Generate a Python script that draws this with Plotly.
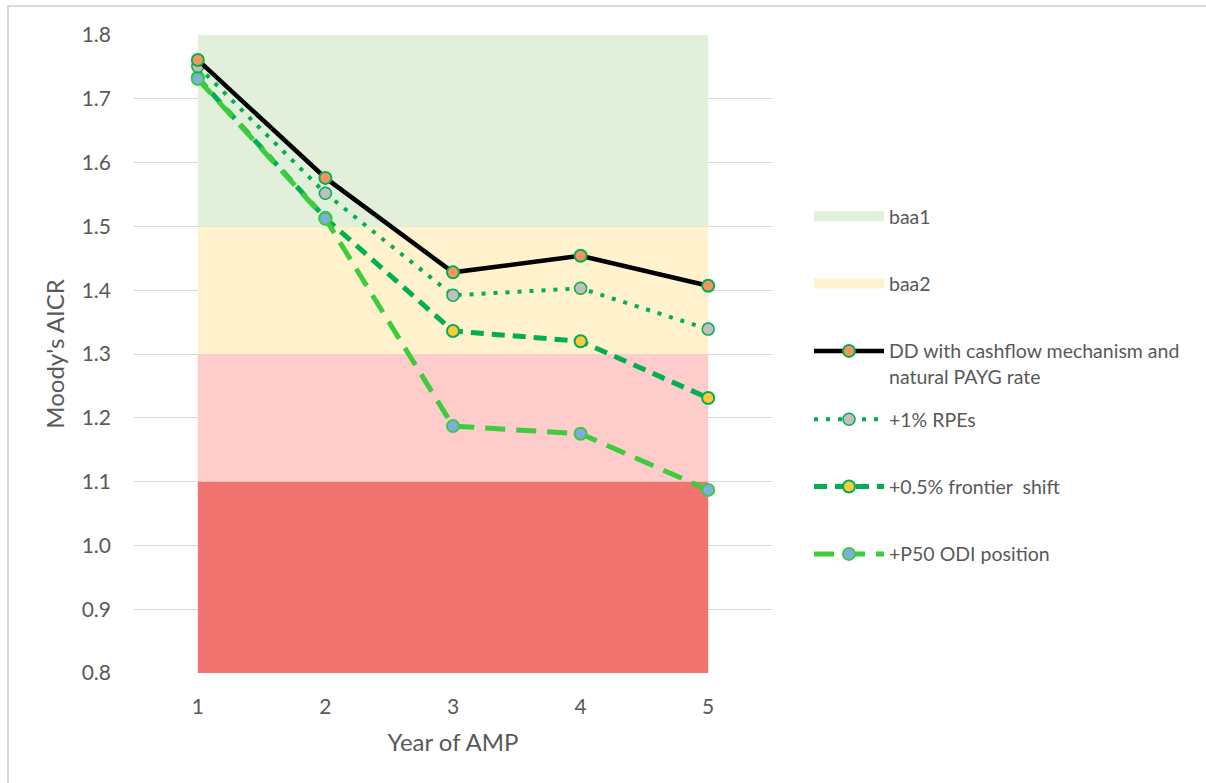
import plotly.graph_objects as go

# Years of the AMP period
years = [1, 2, 3, 4, 5]

# Moody's AICR by scenario
dd_base = [1.761, 1.576, 1.428, 1.454, 1.407]
rpe_1pct = [1.751, 1.552, 1.392, 1.403, 1.339]
frontier_05 = [1.733, 1.513, 1.336, 1.320, 1.231]
p50_odi = [1.731, 1.512, 1.187, 1.175, 1.087]

# Rating bands (lower edge, upper edge)
band_edges = [0.8, 1.1, 1.3, 1.5, 1.8]
band_colors = ["#F27470", "#FFCCCC", "#FFF2CC", "#E2EFDA"]
band_names = ["", "", "baa2", "baa1"]

y_ticks = [0.8, 0.9, 1.0, 1.1, 1.2, 1.3, 1.4, 1.5, 1.6, 1.7, 1.8]

W, H = 1206, 783
L, R, T, B = 134, 434, 35, 110
PW, PH = W - L - R, H - T - B


def px_x(px):
    return (px - L) / PW


def px_y(py):
    return (H - B - py) / PH


FONT = "Lato, 'Open Sans', sans-serif"
TXT = "#595959"

fig = go.Figure()

# Stacked rating bands spanning years 1..5
x_band = [years[0], years[-1]]
fig.add_trace(go.Scatter(x=x_band, y=[band_edges[0]] * 2, mode="lines",
                         line=dict(width=0), showlegend=False, hoverinfo="skip"))
for i, col in enumerate(band_colors):
    fig.add_trace(go.Scatter(x=x_band, y=[band_edges[i + 1]] * 2, mode="lines",
                             line=dict(width=0), fill="tonexty", fillcolor=col,
                             showlegend=False, hoverinfo="skip"))

# Legend keys for the named bands
for rank, (name, col) in enumerate([(band_names[3], band_colors[3]),
                                    (band_names[2], band_colors[2])]):
    fig.add_trace(go.Scatter(x=[None], y=[None], mode="lines", name=name,
                             line=dict(color=col, width=12), legend="legend",
                             legendgroup=name, legendrank=rank + 1))

GREEN = "#00B050"
LGREEN = "#3CCC3C"

fig.add_trace(go.Scatter(
    x=years, y=frontier_05, mode="lines+markers", name="+0.5% frontier  shift",
    line=dict(color=GREEN, width=5, dash="13px,8px"),
    marker=dict(size=12, color="#FFC93A", line=dict(color=GREEN, width=2)),
    legend="legend2", legendrank=2, legendgroup="frontier"))
fig.add_trace(go.Scatter(
    x=years, y=p50_odi, mode="lines+markers", name="+P50 ODI position",
    line=dict(color=LGREEN, width=5, dash="20px,11px"),
    marker=dict(size=12, color="#7EAEE0", line=dict(color=LGREEN, width=2)),
    legend="legend2", legendrank=3, legendgroup="p50"))
fig.add_trace(go.Scatter(
    x=years, y=rpe_1pct, mode="lines+markers", name="+1% RPEs",
    line=dict(color=GREEN, width=4, dash="4px,8px"),
    marker=dict(size=12, color="#BFBFBF", line=dict(color=GREEN, width=1.5)),
    legend="legend2", legendrank=1, legendgroup="rpe"))
fig.add_trace(go.Scatter(
    x=years, y=dd_base, mode="lines+markers",
    name="DD with cashflow mechanism and<br>natural PAYG rate",
    line=dict(color="black", width=4.5),
    marker=dict(size=12, color="#F4965E", line=dict(color=GREEN, width=2)),
    legend="legend", legendrank=3, legendgroup="dd"))

legend_common = dict(
    font=dict(family=FONT, size=19.5, color=TXT),
    bgcolor="rgba(0,0,0,0)", itemwidth=70, tracegroupgap=39,
    xanchor="left", yanchor="top", valign="top", traceorder="grouped",
    itemclick=False,
)

fig.update_layout(
    width=W, height=H,
    margin=dict(l=L, r=R, t=T, b=B),
    paper_bgcolor="white", plot_bgcolor="white",
    font=dict(family=FONT, color=TXT),
    showlegend=True,
    legend=dict(**legend_common, x=px_x(809), y=px_y(197)),
    legend2=dict(**legend_common, x=px_x(809), y=px_y(400)),
    xaxis=dict(
        range=[0.5, 5.5], tickvals=years, ticktext=[str(v) for v in years],
        showgrid=False, zeroline=False, showline=False, ticks="",
        tickfont=dict(family=FONT, size=21, color=TXT),
        ticklabelstandoff=19,
        title=dict(text="Year of AMP", font=dict(family=FONT, size=24, color=TXT),
                   standoff=17),
    ),
    yaxis=dict(
        range=[0.8, 1.8], tickvals=y_ticks,
        ticktext=[f"{v:.1f}" for v in y_ticks],
        showgrid=True, gridcolor="#D9D9D9", gridwidth=1,
        zeroline=False, showline=False, ticks="",
        tickfont=dict(family=FONT, size=21, color=TXT),
        ticklabelstandoff=22,
        title=dict(text="Moody's AICR", font=dict(family=FONT, size=24, color=TXT),
                   standoff=10),
    ),
    shapes=[dict(type="rect", xref="paper", yref="paper",
                 x0=px_x(8), x1=px_x(1220), y0=px_y(6), y1=px_y(800),
                 line=dict(color="#D9D9D9", width=2), fillcolor="rgba(0,0,0,0)",
                 layer="below")],
)

fig.write_html("out.html")
